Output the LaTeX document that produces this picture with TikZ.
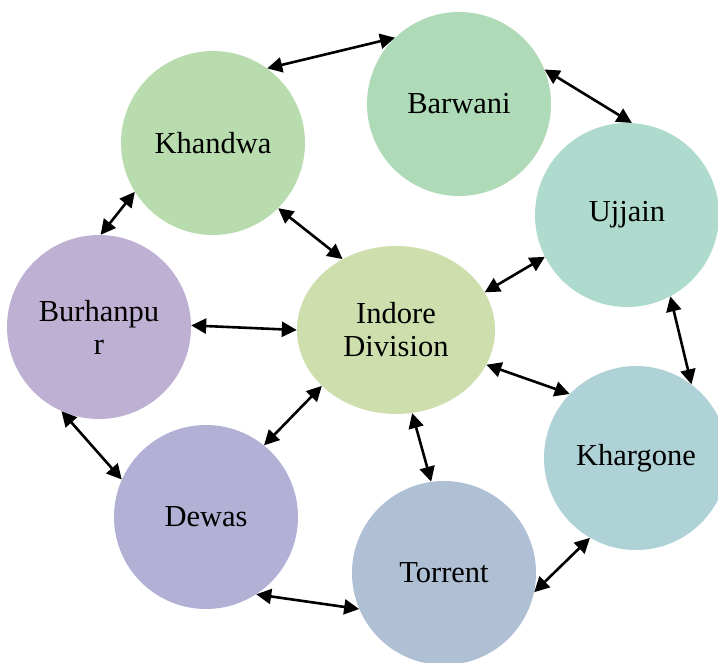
\documentclass[tikz,border=0pt]{standalone}
\usepackage{fontspec}
\setmainfont{Liberation Serif}
\usetikzlibrary{arrows.meta,shapes.geometric}
\definecolor{cKhandwa}{HTML}{B8DCAE}
\definecolor{cBarwani}{HTML}{AEDAB8}
\definecolor{cUjjain}{HTML}{AEDBCE}
\definecolor{cKhargone}{HTML}{AFD2D7}
\definecolor{cTorrent}{HTML}{AFC0D5}
\definecolor{cDewas}{HTML}{B2B0D5}
\definecolor{cBurhanpur}{HTML}{BEB0D3}
\definecolor{cIndore}{HTML}{CEDEAC}
\tikzset{
  txt/.style={font=\fontsize{30.5}{33}\selectfont},
  city/.style={circle, minimum size=184pt, inner sep=0pt, align=center, txt},
  link/.style={{Triangle[length=15pt,width=15pt]}-{Triangle[length=15pt,width=15pt]}, line width=2.6pt, black}
}
\begin{document}
\begin{tikzpicture}[x=1pt,y=-1pt]
\useasboundingbox (0,0) rectangle (718,662);
\node[city, fill=cKhandwa] (khandwa) at (213,143) {Khandwa};
\node[city, fill=cBarwani] (barwani) at (459,104) {Barwani};
\node[city, fill=cUjjain] (ujjain) at (627,215) {Ujjain};
\node[city, fill=cKhargone] (khargone) at (636,458) {Khargone};
\node[city, fill=cTorrent] (torrent) at (444,573) {Torrent};
\node[city, fill=cDewas] (dewas) at (206,517) {Dewas};
\node[city, fill=cBurhanpur] (burhanpur) at (99,327) {Burhanpu\\r};
\node[ellipse, fill=cIndore, minimum width=198pt, minimum height=168pt, inner sep=0pt, align=center,
  txt] (indore) at (396,330) {Indore\\Division};
\draw[link] (khandwa.54.8) -- (barwani.134.5);
\draw[link] (barwani.22) -- (ujjain.87);
\draw[link] (ujjain.-62.3) -- (khargone.53.4);
\draw[link] (khargone.240) -- (torrent.-12);
\draw[link] (torrent.203.6) -- (dewas.-57.3);
\draw[link] (dewas.156.2) -- (burhanpur.246.6);
\draw[link] (burhanpur.89) -- (khandwa.212.8);
\draw[link] (indore.127.8) -- (khandwa.-45);
\draw[link] (indore.180.6) -- (burhanpur.1.2);
\draw[link] (indore.217.8) -- (dewas.51.7);
\draw[link] (indore.-79) -- (torrent.98.7);
\draw[link] (indore.-21.8) -- (khargone.136.8);
\draw[link] (indore.23.2) -- (ujjain.207.4);
\end{tikzpicture}
\end{document}
